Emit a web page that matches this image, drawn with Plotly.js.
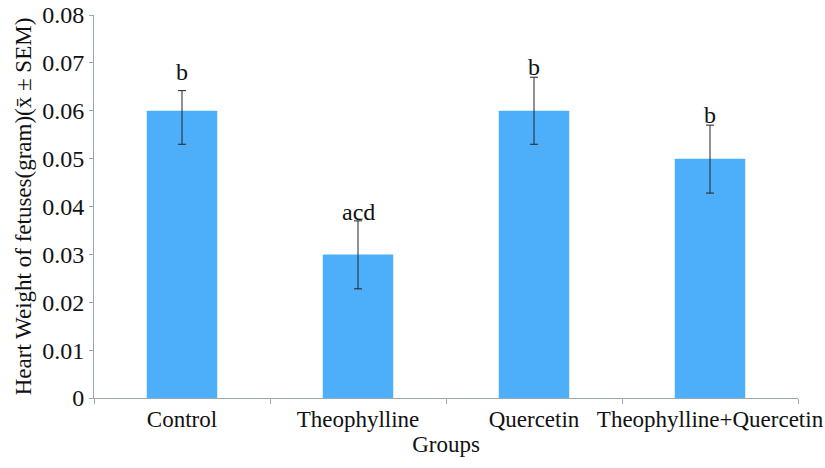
<!DOCTYPE html>
<html>
<head>
<meta charset="utf-8">
<script src="https://cdn.plot.ly/plotly-3.0.1.min.js"></script>
<style>html,body{margin:0;padding:0;background:#fff;}#chart{width:825px;height:468px;}</style>
</head>
<body>
<div id="chart"></div>
<script>
const groups = ["Control", "Theophylline", "Quercetin", "Theophylline+Quercetin"];
const meanWeight = [0.060, 0.030, 0.060, 0.050];
const errUp = [0.0042, 0.0070, 0.0070, 0.0070];
const errDown = [0.0070, 0.0072, 0.0070, 0.0072];
const sigLetters = ["b", "acd", "b", "b"];
const letterY = [0.0681, 0.0388, 0.0692, 0.0591];
const yTicks = [0, 0.01, 0.02, 0.03, 0.04, 0.05, 0.06, 0.07, 0.08];
const yTickText = ["0", "0.01", "0.02", "0.03", "0.04", "0.05", "0.06", "0.07", "0.08"];

const FONT = "Liberation Serif, Times New Roman, serif";
const axisColor = "#98a8b4";

const trace = {
  type: "bar",
  x: groups,
  y: meanWeight,
  marker: {color: "#4daefa"},
  error_y: {
    type: "data",
    symmetric: false,
    array: errUp,
    arrayminus: errDown,
    color: "#222222",
    thickness: 1,
    width: 4
  },
  hoverinfo: "none"
};

const annotations = groups.map((g, i) => ({
  x: g, y: letterY[i], xref: "x", yref: "y",
  text: sigLetters[i], showarrow: false,
  font: {family: FONT, size: 24, color: "#111"},
  yanchor: "middle"
}));

const layout = {
  width: 825, height: 468,
  margin: {l: 94, r: 27, t: 15, b: 70},
  paper_bgcolor: "#fff", plot_bgcolor: "#fff",
  bargap: 0.6,
  showlegend: false,
  font: {family: FONT, size: 22, color: "#111"},
  xaxis: {
    type: "category",
    showline: true, linecolor: axisColor, linewidth: 1,
    ticks: "outside", tickson: "boundaries", ticklen: 5, tickcolor: axisColor,
    tickangle: 0,
    showgrid: false, zeroline: false,
    tickfont: {family: FONT, size: 23, color: "#111"},
    title: {text: "Groups", font: {family: FONT, size: 23, color: "#111"}, standoff: 2}
  },
  yaxis: {
    range: [0, 0.08],
    tickvals: yTicks, ticktext: yTickText,
    showline: true, linecolor: axisColor, linewidth: 1,
    ticks: "outside", ticklen: 4, tickcolor: axisColor,
    showgrid: false, zeroline: false,
    tickfont: {family: FONT, size: 24, color: "#111"},
    title: {text: "Heart Weight of fetuses(gram)(x\u0304 \u00B1 SEM)", font: {family: FONT, size: 23, color: "#111"}, standoff: 4}
  },
  annotations: annotations
};

Plotly.newPlot("chart", [trace], layout, {displayModeBar: false, staticPlot: true});
</script>
</body>
</html>
